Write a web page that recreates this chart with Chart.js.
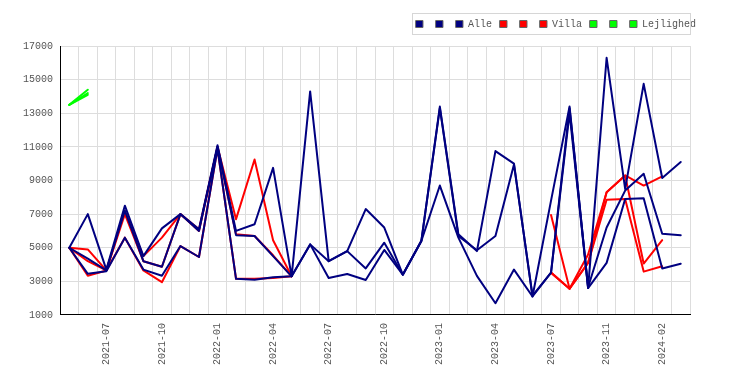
<!DOCTYPE html>
<html><head><meta charset="utf-8">
<script src="https://cdn.jsdelivr.net/npm/chart.js@4.4.1/dist/chart.umd.min.js"></script>
<style>html,body{margin:0;padding:0;background:#fff}#wrap{width:750px;height:385px}</style>
</head><body><div id="wrap"><canvas id="c" width="750" height="385"></canvas></div>
<script>
const months = ['2021-05','2021-06','2021-07','2021-08','2021-09','2021-10','2021-11','2021-12',
  '2022-01','2022-02','2022-03','2022-04','2022-05','2022-06','2022-07','2022-08','2022-09','2022-10','2022-11','2022-12',
  '2023-01','2023-02','2023-03','2023-04','2023-05','2023-06','2023-07','2023-08','2023-10','2023-11','2023-12',
  '2024-01','2024-02','2024-03'];
const tickLabels = ['2021-07','2021-10','2022-01','2022-04','2022-07','2022-10','2023-01','2023-04','2023-07','2023-11','2024-02'];
const yMin = 1000, yMax = 17000, yStep = 2000;

const alle1 = [5000,7000,3700,7500,4500,6150,7000,6100,11100,6000,6400,9750,3300,14300,4200,4800,7300,6200,3400,5400,13400,5800,4800,10750,10000,2100,7800,13400,2600,16300,8500,14750,9150,10100];
const alle2 = [5000,4350,3650,7200,4200,3870,7000,6000,11000,5750,5700,4500,3300,5200,4200,4800,3770,5300,3400,5400,13300,5700,4850,5700,9950,2150,3520,13300,2650,6200,8400,9400,5830,5750];
const alle3 = [5000,3450,3600,5600,3700,3330,5100,4450,10900,3150,3100,3250,3300,5200,3200,3440,3080,4870,3400,5400,8700,5600,3330,1700,3700,2100,3520,13000,2600,4100,7900,7950,3770,4050];

const villa1 = [5000,4900,3650,7200,4500,5600,7000,6100,11000,6700,10250,5450,3300,null,null,null,null,null,null,null,null,null,null,null,null,null,6950,2560,4600,8300,9300,8700,9250,null];
const villa2 = [5000,4200,3650,7000,4200,3870,7000,6000,11000,5800,5700,4550,3300,null,null,null,null,null,null,null,null,null,null,null,null,null,3520,2560,4100,8300,9300,4060,5450,null];
const villa3 = [5000,3330,3650,5600,3650,2950,5100,4450,10900,3150,3150,3200,3300,null,null,null,null,null,null,null,null,null,null,null,null,null,3520,2560,4100,7860,7900,3580,3900,null];

const lejl1 = [13500,14400].concat(Array(32).fill(null));
const lejl2 = [13500,14100].concat(Array(32).fill(null));
const lejl3 = [13500,14200].concat(Array(32).fill(null));

const NAVY = '#000080', RED = '#ff0000', GREEN = '#00ff00';
const FONT = {family: '"Liberation Mono", "DejaVu Sans Mono", monospace', size: 10};

function ds(label, data, color) {
  return {label, data, borderColor: color, backgroundColor: color, borderWidth: 2,
    borderJoinStyle: 'round', borderCapStyle: 'round',
    pointRadius: 0, pointHoverRadius: 0, tension: 0, fill: false, spanGaps: false};
}

const legendTweak = {
  id: 'legendTweak',
  afterLayout(chart) {
    const lg = chart.legend;
    const dx = 704 - lg.right; lg.left += dx; lg.right += dx;
    const dy = 11 - lg.top; lg.top += dy; lg.bottom += dy;
  },
  afterDraw(chart) {
    const lg = chart.legend, ctx = chart.ctx;
    const firstX = lg.right - lg.lineWidths[0];
    const x0 = Math.round(firstX - 4) + 0.5;
    const y0 = Math.round(lg.top + 2) + 0.5;
    ctx.save();
    ctx.strokeStyle = '#d6d6d6';
    ctx.lineWidth = 1;
    ctx.strokeRect(x0, y0, Math.round(chart.chartArea.right) - x0 + 0.5, 21);
    ctx.restore();
  }
};

new Chart(document.getElementById('c'), {
  type: 'line',
  data: {
    labels: months,
    datasets: [
      ds('', alle1, NAVY), ds('', alle2, NAVY), ds('Alle', alle3, NAVY),
      ds('', villa1, RED), ds('', villa2, RED), ds('Villa', villa3, RED),
      ds('', lejl1, GREEN), ds('', lejl2, GREEN), ds('Lejlighed', lejl3, GREEN)
    ]
  },
  options: {
    responsive: false,
    devicePixelRatio: 1,
    animation: false,
    events: [],
    layout: {padding: {top: 18, left: 16, right: 60, bottom: 12}},
    plugins: {
      tooltip: {enabled: false},
      legend: {
        position: 'top', align: 'end',
        labels: {
          boxWidth: 7, boxHeight: 7, padding: 8, font: FONT, color: '#555',
          generateLabels(chart) {
            const items = Chart.defaults.plugins.legend.labels.generateLabels(chart);
            items.forEach(it => { it.fillStyle = chart.data.datasets[it.datasetIndex].borderColor; it.strokeStyle = '#666'; it.lineWidth = 1; });
            return items;
          }
        }
      }
    },
    scales: {
      x: {
        type: 'category', offset: true,
        grid: {offset: true, color: '#dddddd', drawTicks: false},
        border: {color: '#000', width: 1},
        ticks: {
          autoSkip: false, maxRotation: 90, minRotation: 90, padding: 8, font: FONT, color: '#555',
          callback(v, i) { const m = months[i]; return tickLabels.includes(m) ? m : ''; }
        }
      },
      y: {
        min: yMin, max: yMax,
        grid: {color: '#dddddd', drawTicks: false},
        border: {color: '#000', width: 1},
        ticks: {stepSize: yStep, padding: 7, font: FONT, color: '#555', callback: v => String(v)}
      }
    }
  },
  plugins: [legendTweak]
});
</script></body></html>
